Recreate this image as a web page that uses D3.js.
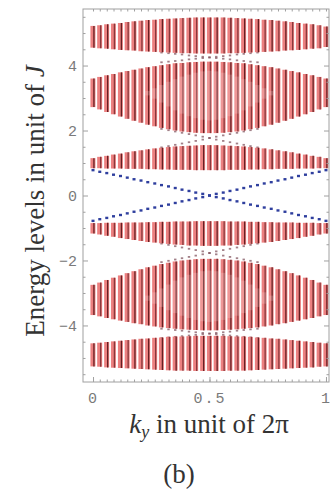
<!DOCTYPE html>
<html>
<head>
<meta charset="utf-8">
<script src="https://cdn.jsdelivr.net/npm/d3@7"></script>
<style>
  body { margin: 0; background: #fff; }
</style>
</head>
<body>
<div id="chart"></div>
<script>
// k_y sample points (one column of eigenvalues per point)
const ky = [0, 0.029, 0.059, 0.088, 0.118, 0.147, 0.176, 0.206, 0.235, 0.265, 0.294, 0.324, 0.353, 0.382, 0.412, 0.441, 0.471, 0.5,
  0.529, 0.559, 0.588, 0.618, 0.647, 0.676, 0.706, 0.735, 0.765, 0.794, 0.824, 0.853, 0.882, 0.912, 0.941, 0.971, 1];

// bulk bands, upper / lower edge per column (units of J)
const band1Top = [5.22,5.24,5.27,5.29,5.31,5.34,5.36,5.38,5.40,5.41,5.43,5.44,5.45,5.46,5.47,5.48,5.48,5.48,
  5.48,5.48,5.47,5.46,5.45,5.44,5.43,5.41,5.40,5.38,5.36,5.34,5.31,5.29,5.27,5.24,5.20];
const band1Bot = [4.55,4.53,4.52,4.50,4.48,4.47,4.46,4.44,4.43,4.42,4.41,4.40,4.39,4.38,4.38,4.37,4.37,4.37,
  4.37,4.37,4.38,4.38,4.39,4.40,4.41,4.42,4.43,4.44,4.46,4.47,4.48,4.50,4.52,4.53,4.57];
const band2Top = [3.60,3.65,3.70,3.74,3.79,3.83,3.87,3.91,3.95,3.98,4.01,4.04,4.07,4.08,4.10,4.11,4.12,4.12,
  4.12,4.11,4.10,4.08,4.07,4.04,4.01,3.98,3.95,3.91,3.87,3.83,3.79,3.74,3.70,3.65,3.60];
const band2Bot = [2.72,2.65,2.57,2.50,2.43,2.36,2.30,2.24,2.18,2.13,2.08,2.04,2.00,1.97,1.95,1.93,1.92,1.92,
  1.92,1.93,1.95,1.97,2.00,2.04,2.08,2.13,2.18,2.24,2.30,2.36,2.43,2.50,2.57,2.65,2.72];
const band3Top = [1.15,1.19,1.22,1.26,1.29,1.33,1.36,1.39,1.42,1.45,1.47,1.49,1.51,1.52,1.53,1.54,1.55,1.55,
  1.55,1.54,1.53,1.52,1.51,1.49,1.47,1.45,1.42,1.39,1.36,1.33,1.29,1.26,1.22,1.19,1.15];
const band3Bot = [0.84,0.84,0.83,0.83,0.83,0.82,0.82,0.82,0.81,0.81,0.80,0.80,0.79,0.79,0.79,0.78,0.78,0.78,
  0.78,0.78,0.79,0.79,0.79,0.80,0.80,0.81,0.81,0.82,0.82,0.82,0.83,0.83,0.83,0.84,0.84];
const band4Top = [-0.85,-0.85,-0.84,-0.84,-0.84,-0.83,-0.83,-0.83,-0.82,-0.82,-0.81,-0.81,-0.80,-0.80,-0.80,-0.79,-0.79,-0.79,
  -0.79,-0.79,-0.80,-0.80,-0.80,-0.81,-0.81,-0.82,-0.82,-0.83,-0.83,-0.83,-0.84,-0.84,-0.84,-0.85,-0.85];
const band4Bot = [-1.17,-1.20,-1.24,-1.27,-1.31,-1.34,-1.37,-1.40,-1.43,-1.45,-1.47,-1.49,-1.51,-1.52,-1.54,-1.54,-1.55,-1.55,
  -1.55,-1.54,-1.54,-1.52,-1.51,-1.49,-1.47,-1.45,-1.43,-1.40,-1.37,-1.34,-1.31,-1.27,-1.24,-1.20,-1.17];
const band5Top = [-2.75,-2.68,-2.60,-2.53,-2.46,-2.39,-2.33,-2.27,-2.21,-2.16,-2.11,-2.07,-2.03,-2.00,-1.98,-1.96,-1.95,-1.95,
  -1.95,-1.96,-1.98,-2.00,-2.03,-2.07,-2.11,-2.16,-2.21,-2.27,-2.33,-2.39,-2.46,-2.53,-2.60,-2.68,-2.75];
const band5Bot = [-3.68,-3.72,-3.77,-3.81,-3.85,-3.89,-3.93,-3.96,-4.00,-4.03,-4.06,-4.08,-4.10,-4.12,-4.13,-4.14,-4.15,-4.15,
  -4.15,-4.14,-4.13,-4.12,-4.10,-4.08,-4.06,-4.03,-4.00,-3.96,-3.93,-3.89,-3.85,-3.81,-3.77,-3.72,-3.68];
const band6Top = [-4.55,-4.53,-4.51,-4.49,-4.47,-4.45,-4.43,-4.41,-4.40,-4.38,-4.37,-4.35,-4.34,-4.34,-4.33,-4.32,-4.32,-4.32,
  -4.32,-4.32,-4.33,-4.34,-4.34,-4.35,-4.37,-4.38,-4.40,-4.41,-4.43,-4.45,-4.47,-4.49,-4.51,-4.53,-4.55];
const band6Bot = [-5.26,-5.27,-5.29,-5.30,-5.31,-5.32,-5.33,-5.34,-5.35,-5.36,-5.37,-5.38,-5.39,-5.39,-5.39,-5.40,-5.40,-5.40,
  -5.40,-5.40,-5.39,-5.39,-5.39,-5.38,-5.37,-5.36,-5.35,-5.34,-5.33,-5.32,-5.31,-5.30,-5.29,-5.27,-5.26];

// sparse (lighter) interior of the two wide bands, columns 8..26
const hollowK = [0.235, 0.265, 0.294, 0.324, 0.353, 0.382, 0.412, 0.441, 0.471, 0.5,
  0.529, 0.559, 0.588, 0.618, 0.647, 0.676, 0.706, 0.735, 0.765];
const hollowUpTop = [3.22,3.30,3.40,3.50,3.58,3.66,3.72,3.78,3.82,3.84,3.82,3.78,3.72,3.66,3.58,3.50,3.40,3.30,3.22];
const hollowUpBot = [3.08,2.98,2.86,2.74,2.62,2.52,2.44,2.38,2.33,2.31,2.33,2.38,2.44,2.52,2.62,2.74,2.86,2.98,3.08];
const hollowDnTop = [-3.08,-2.98,-2.86,-2.74,-2.62,-2.52,-2.44,-2.38,-2.33,-2.31,-2.33,-2.38,-2.44,-2.52,-2.62,-2.74,-2.86,-2.98,-3.08];
const hollowDnBot = [-3.24,-3.33,-3.43,-3.53,-3.62,-3.70,-3.77,-3.83,-3.87,-3.89,-3.87,-3.83,-3.77,-3.70,-3.62,-3.53,-3.43,-3.33,-3.24];

// edge states crossing the central gap
const edgeA = [0.78,0.73,0.69,0.64,0.60,0.55,0.50,0.46,0.41,0.37,0.32,0.28,0.23,0.18,0.14,0.09,0.05,0.00,
  -0.05,-0.09,-0.14,-0.18,-0.23,-0.28,-0.32,-0.37,-0.41,-0.46,-0.50,-0.55,-0.60,-0.64,-0.69,-0.73,-0.78];
const edgeB = [-0.78,-0.73,-0.69,-0.64,-0.60,-0.55,-0.50,-0.46,-0.41,-0.37,-0.32,-0.28,-0.23,-0.18,-0.14,-0.09,-0.05,0.00,
  0.05,0.09,0.14,0.18,0.23,0.28,0.32,0.37,0.41,0.46,0.50,0.55,0.60,0.64,0.69,0.73,0.78];

// faint edge states in the outer gaps, columns 10..24
const gapK = [0.294, 0.324, 0.353, 0.382, 0.412, 0.441, 0.471, 0.5, 0.529, 0.559, 0.588, 0.618, 0.647, 0.676, 0.706];
const gap1A = [4.40,4.38,4.36,4.34,4.31,4.29,4.27,4.25,4.23,4.21,4.19,4.16,4.14,4.12,4.10];
const gap1B = [4.10,4.12,4.14,4.16,4.19,4.21,4.23,4.25,4.27,4.29,4.31,4.34,4.36,4.38,4.40];
const gap2A = [2.05,2.01,1.97,1.93,1.89,1.85,1.81,1.77,1.72,1.68,1.64,1.60,1.56,1.52,1.48];
const gap2B = [1.48,1.52,1.56,1.60,1.64,1.68,1.72,1.77,1.81,1.85,1.89,1.93,1.97,2.01,2.05];
const gap3A = [-1.48,-1.52,-1.56,-1.60,-1.64,-1.68,-1.72,-1.77,-1.81,-1.85,-1.89,-1.93,-1.97,-2.01,-2.05];
const gap3B = [-2.05,-2.01,-1.97,-1.93,-1.89,-1.85,-1.81,-1.77,-1.72,-1.68,-1.64,-1.60,-1.56,-1.52,-1.48];
const gap4A = [-4.10,-4.12,-4.14,-4.16,-4.19,-4.21,-4.23,-4.25,-4.27,-4.29,-4.31,-4.33,-4.35,-4.37,-4.39];
const gap4B = [-4.39,-4.37,-4.35,-4.33,-4.31,-4.29,-4.27,-4.25,-4.23,-4.21,-4.19,-4.16,-4.14,-4.12,-4.10];

const yMajor = [-4, -2, 0, 2, 4];
const yMinor = [-5.5,-5,-4.5,-3.5,-3,-2.5,-1.5,-1,-0.5,0.5,1,1.5,2.5,3,3.5,4.5,5,5.5];
const xMajor = [0, 0.5, 1];

const width = 334, height = 495;
const frame = { left: 83, right: 329, top: 9, bottom: 382 };

const svg = d3.select("#chart").append("svg")
  .attr("width", width)
  .attr("height", height);

const x = d3.scaleLinear().domain([-0.043, 1.013]).range([frame.left, frame.right]);
const y = d3.scaleLinear().domain([-5.74, 5.74]).range([frame.bottom, frame.top]);

const plot = svg.append("g");

// outer-gap edge states (drawn first, bands cover their ends)
const gapPts = [];
[gap1A, gap1B, gap2A, gap2B, gap3A, gap3B, gap4A, gap4B].forEach(s =>
  gapK.forEach((k, i) => gapPts.push({ k: k, e: s[i] })));
plot.selectAll("rect.gap")
  .data(gapPts)
  .enter().append("rect")
  .attr("class", "gap")
  .attr("x", d => x(d.k) - 1.2)
  .attr("y", d => y(d.e) - 0.9)
  .attr("width", 2.4)
  .attr("height", 1.8)
  .attr("fill", "#7a4a55")
  .attr("opacity", 0.7);

const bands = [
  [band1Bot, band1Top], [band2Bot, band2Top], [band3Bot, band3Top],
  [band4Bot, band4Top], [band5Bot, band5Top], [band6Bot, band6Top]
];

const segs = [];
bands.forEach(b => ky.forEach((k, i) => segs.push({ k: k, lo: b[0][i], hi: b[1][i], i: i })));

// light red column of densely packed levels
plot.selectAll("rect.col")
  .data(segs)
  .enter().append("rect")
  .attr("class", "col")
  .attr("x", d => x(d.k) - 2.6)
  .attr("width", 5)
  .attr("y", d => y(d.hi))
  .attr("height", d => y(d.lo) - y(d.hi))
  .attr("fill", "#ec8080");

// darker core of each column
plot.selectAll("line.core")
  .data(segs)
  .enter().append("line")
  .attr("class", "core")
  .attr("x1", d => x(d.k) + 0.9)
  .attr("x2", d => x(d.k) + 0.9)
  .attr("y1", d => y(d.hi))
  .attr("y2", d => y(d.lo))
  .attr("stroke", "#5e1a1e")
  .attr("stroke-width", 1.3)
  .attr("stroke-opacity", d => d.i % 2 ? 0.7 : 0.95);

// lighter, sparse interior of the wide bands
const hollow = [];
[[hollowUpBot, hollowUpTop], [hollowDnBot, hollowDnTop]].forEach(h =>
  hollowK.forEach((k, i) => hollow.push({ k: k, lo: h[0][i], hi: h[1][i] })));
plot.selectAll("rect.hollow")
  .data(hollow)
  .enter().append("rect")
  .attr("class", "hollow")
  .attr("x", d => x(d.k) - 2.6)
  .attr("width", 5)
  .attr("y", d => y(d.hi))
  .attr("height", d => y(d.lo) - y(d.hi))
  .attr("fill", "#fff")
  .attr("opacity", 0.18);

// blue edge states
const edgePts = [];
ky.forEach((k, i) => { edgePts.push({ k: k, e: edgeA[i] }); edgePts.push({ k: k, e: edgeB[i] }); });
plot.selectAll("rect.edge")
  .data(edgePts)
  .enter().append("rect")
  .attr("class", "edge")
  .attr("x", d => x(d.k) - 1.5)
  .attr("y", d => y(d.e) - 1.2)
  .attr("width", 3)
  .attr("height", 2.4)
  .attr("fill", "#2f3f9e");

// frame with inward ticks
const axisColor = "#a0a0a0";
function styleAxis(g) {
  g.select(".domain").remove();
  g.selectAll("line").attr("stroke", axisColor);
  g.selectAll("text").attr("fill", "#7a7a7a")
    .style("font-family", "'Liberation Mono', monospace");
}

svg.append("g").attr("transform", `translate(${frame.left},0)`)
  .call(d3.axisLeft(y).tickValues(yMajor).tickSize(-5).tickPadding(6)
    .tickFormat(d => d < 0 ? "\u2212" + Math.abs(d) : d))
  .call(styleAxis)
  .selectAll("text").style("font-size", "15px");
svg.append("g").attr("transform", `translate(${frame.left},0)`)
  .call(d3.axisLeft(y).tickValues(yMinor).tickSize(-2.5).tickFormat(""))
  .call(styleAxis);
svg.append("g").attr("transform", `translate(${frame.right},0)`)
  .call(d3.axisRight(y).tickValues(yMajor).tickSize(-5).tickFormat(""))
  .call(styleAxis);
svg.append("g").attr("transform", `translate(${frame.right},0)`)
  .call(d3.axisRight(y).tickValues(yMinor).tickSize(-2.5).tickFormat(""))
  .call(styleAxis);

svg.append("g").attr("transform", `translate(0,${frame.bottom})`)
  .call(d3.axisBottom(x).tickValues(xMajor).tickSize(-5).tickPadding(10)
    .tickFormat(d3.format("")))
  .call(styleAxis)
  .selectAll("text").style("font-size", "15px").style("letter-spacing", "2px");
svg.append("g").attr("transform", `translate(0,${frame.bottom})`)
  .call(d3.axisBottom(x).tickValues(ky).tickSize(-2.5).tickFormat(""))
  .call(styleAxis);
svg.append("g").attr("transform", `translate(0,${frame.top})`)
  .call(d3.axisTop(x).tickValues(ky).tickSize(-2.5).tickFormat(""))
  .call(styleAxis);

svg.append("rect")
  .attr("x", frame.left).attr("y", frame.top)
  .attr("width", frame.right - frame.left)
  .attr("height", frame.bottom - frame.top)
  .attr("fill", "none")
  .attr("stroke", axisColor)
  .attr("stroke-width", 1);

// axis titles
const serif = "'Liberation Serif', 'Times New Roman', serif";
const xt = svg.append("text")
  .attr("x", 209).attr("y", 433)
  .attr("text-anchor", "middle")
  .style("font-family", serif).style("font-size", "27px")
  .attr("fill", "#333");
xt.append("tspan").style("font-style", "italic").text("k");
xt.append("tspan").style("font-style", "italic").style("font-size", "18px")
  .attr("dy", 5).text("y");
xt.append("tspan").attr("dy", -5).text(" in unit of 2\u03c0");

const yt = svg.append("text")
  .attr("transform", "translate(44,201) rotate(-90)")
  .attr("text-anchor", "middle")
  .style("font-family", serif).style("font-size", "27px")
  .attr("fill", "#333");
yt.append("tspan").text("Energy levels in unit of ");
yt.append("tspan").style("font-style", "italic").text("J");

svg.append("text")
  .attr("x", 179).attr("y", 483)
  .attr("text-anchor", "middle")
  .style("font-family", serif).style("font-size", "27px")
  .attr("fill", "#333")
  .text("(b)");
</script>
</body>
</html>
